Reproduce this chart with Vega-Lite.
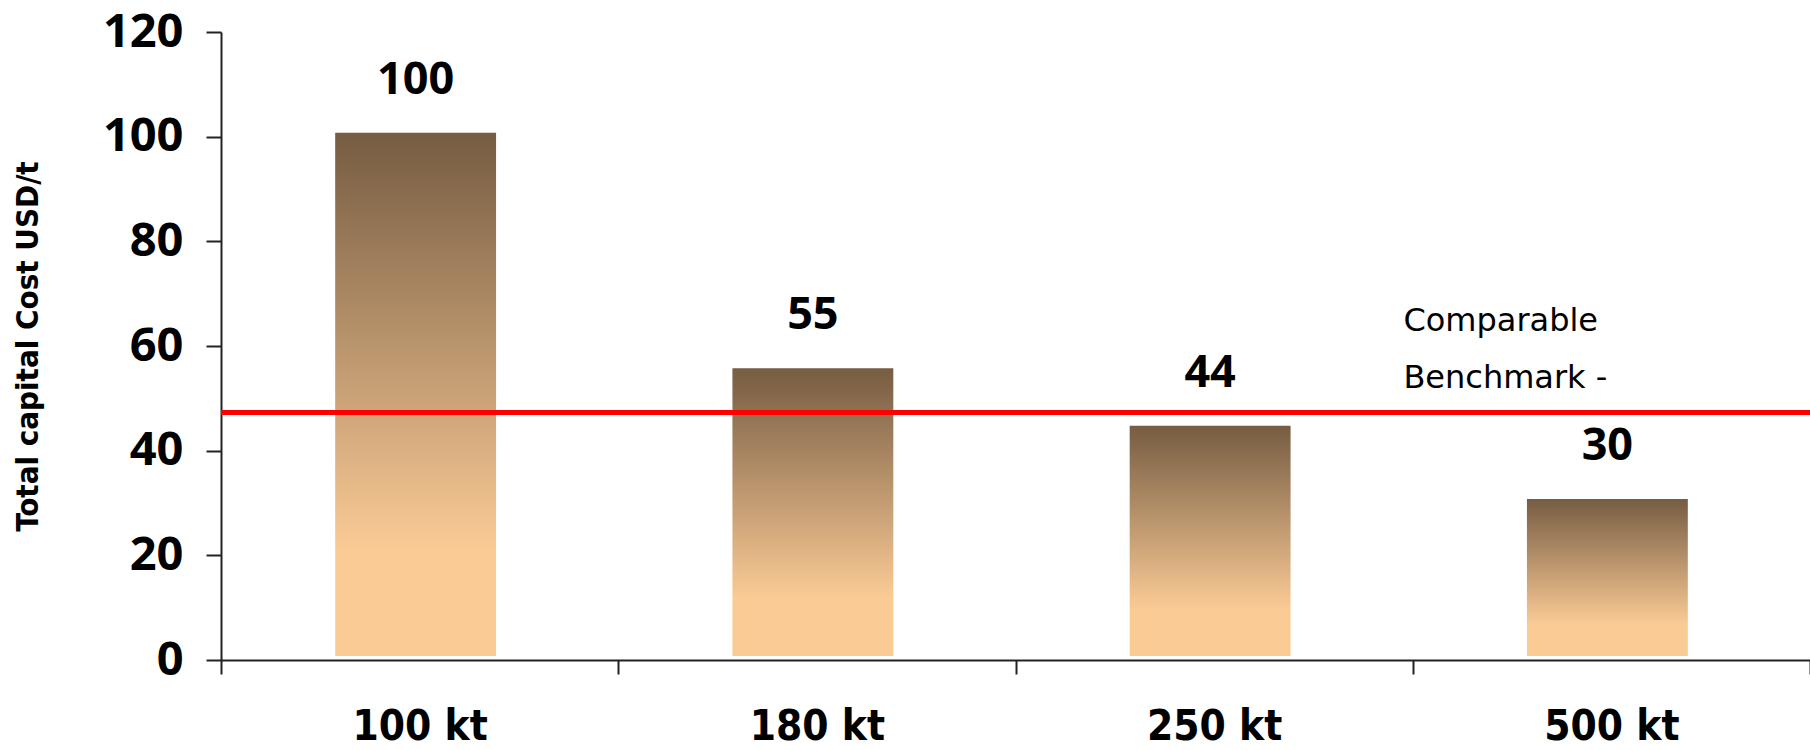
{
  "$schema": "https://vega.github.io/schema/vega-lite/v6.json",
  "width": 1589,
  "height": 628,
  "autosize": {"type": "none"},
  "padding": {"left": 221, "top": 32, "right": 0, "bottom": 90},
  "background": "white",
  "config": {
    "view": {"stroke": null},
    "axis": {"grid": false}
  },
  "datasets": {
    "plants": [
      {"capacity": "100 kt", "cost": 100},
      {"capacity": "180 kt", "cost": 55},
      {"capacity": "250 kt", "cost": 44},
      {"capacity": "500 kt", "cost": 30}
    ],
    "benchmark": [
      {"cost": 47.3, "note": "Comparable\nBenchmark -"}
    ]
  },
  "layer": [
    {
      "data": {"name": "plants"},
      "mark": {
        "type": "bar",
        "width": {"band": 0.405},
        "xOffset": -4,
        "yOffset": -4,
        "fill": {
          "gradient": "linear",
          "x1": 0, "y1": 0, "x2": 0, "y2": 1,
          "stops": [
            {"offset": 0, "color": "#765C42"},
            {"offset": 0.8, "color": "#FBCB96"},
            {"offset": 1, "color": "#FBCB96"}
          ]
        }
      },
      "encoding": {
        "x": {
          "field": "capacity",
          "type": "nominal",
          "sort": null,
          "scale": {"paddingInner": 0, "paddingOuter": 0},
          "axis": {
            "title": null,
            "tickBand": "extent",
            "tickSize": 14,
            "tickWidth": 2,
            "tickColor": "#222222",
            "domainColor": "#222222",
            "domainWidth": 2,
            "labelFont": "DejaVu Sans Condensed",
            "labelFontWeight": "bold",
            "labelFontSize": 42,
            "labelColor": "#000000",
            "labelAngle": 0,
            "labelPadding": 32
          }
        },
        "y": {
          "field": "cost",
          "type": "quantitative",
          "scale": {"domain": [0, 120], "nice": false},
          "axis": {
            "title": "Total capital Cost USD/t",
            "values": [0, 20, 40, 60, 80, 100, 120],
            "tickSize": 15,
            "tickWidth": 2,
            "tickColor": "#222222",
            "domainColor": "#222222",
            "domainWidth": 2,
            "labelFont": "Open Sans",
            "labelFontWeight": "bold",
            "labelFontSize": 47,
            "labelColor": "#000000",
            "labelPadding": 23,
            "labelFlush": false,
            "labelOverlap": false,
            "titleFont": "DejaVu Sans Condensed",
            "titleFontWeight": "bold",
            "titleFontSize": 31,
            "titleColor": "#000000",
            "titlePadding": 58
          }
        }
      }
    },
    {
      "data": {"name": "plants"},
      "mark": {
        "type": "text",
        "font": "Open Sans",
        "fontWeight": "bold",
        "fontSize": 45,
        "color": "#000000",
        "baseline": "alphabetic",
        "dx": -4,
        "dy": -43
      },
      "encoding": {
        "x": {"field": "capacity", "type": "nominal", "sort": null},
        "y": {"field": "cost", "type": "quantitative"},
        "text": {"field": "cost", "type": "quantitative"}
      }
    },
    {
      "data": {"name": "benchmark"},
      "mark": {"type": "rule", "color": "#FF0000", "strokeWidth": 5},
      "encoding": {
        "y": {"field": "cost", "type": "quantitative"}
      }
    },
    {
      "data": {"name": "benchmark"},
      "mark": {
        "type": "text",
        "font": "DejaVu Sans",
        "fontSize": 32,
        "color": "#000000",
        "align": "left",
        "baseline": "bottom",
        "lineBreak": "\n",
        "lineHeight": 57,
        "dx": -208,
        "dy": -74
      },
      "encoding": {
        "x": {"datum": "500 kt", "type": "nominal"},
        "y": {"field": "cost", "type": "quantitative"},
        "text": {"field": "note", "type": "nominal"}
      }
    }
  ]
}
